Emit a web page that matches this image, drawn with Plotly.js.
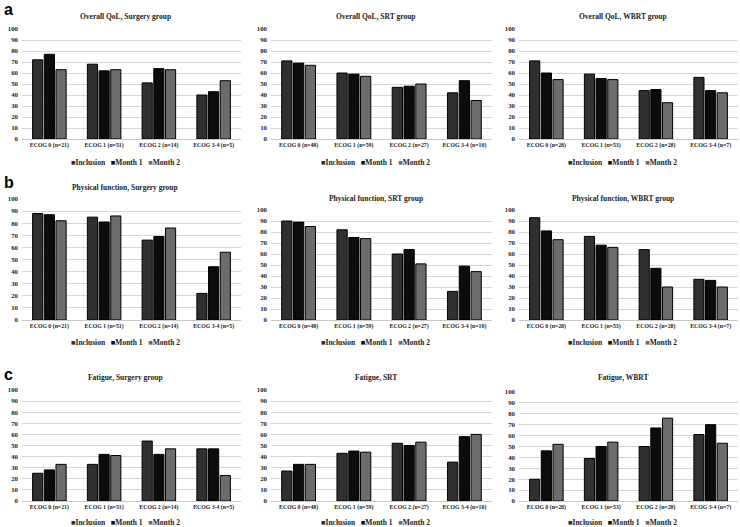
<!DOCTYPE html>
<html>
<head>
<meta charset="utf-8">
<script src="https://cdn.plot.ly/plotly-3.0.1.min.js"></script>
<style>html,body{margin:0;padding:0;background:#fff;}#chart{width:740px;height:527px;}</style>
</head>
<body>
<div id="chart"></div>
<script>
// ---- data ----
const catsSurgery = ['ECOG 0 (n=21)', 'ECOG 1 (n=51)', 'ECOG 2 (n=14)', 'ECOG 3-4 (n=5)'];
const catsSRT = ['ECOG 0 (n=48)', 'ECOG 1 (n=59)', 'ECOG 2 (n=27)', 'ECOG 3-4 (n=10)'];
const catsWBRT = ['ECOG 0 (n=28)', 'ECOG 1 (n=53)', 'ECOG 2 (n=28)', 'ECOG 3-4 (n=7)'];
const seriesNames = ['Inclusion', 'Month 1', 'Month 2'];

const qolSurgeryIncl = [72, 68, 51, 40];
const qolSurgeryM1 = [77, 62, 64, 43];
const qolSurgeryM2 = [63, 63, 63, 53];
const qolSRTIncl = [71, 60, 47, 42];
const qolSRTM1 = [69, 59, 48, 53];
const qolSRTM2 = [67, 57, 50, 35];
const qolWBRTIncl = [71, 59, 44, 56];
const qolWBRTM1 = [60, 55, 45, 44];
const qolWBRTM2 = [54, 54, 33, 42];

const pfSurgeryIncl = [88, 85, 66, 22];
const pfSurgeryM1 = [87, 81, 69, 44];
const pfSurgeryM2 = [82, 86, 76, 56];
const pfSRTIncl = [90, 82, 60, 26];
const pfSRTM1 = [89, 75, 64, 49];
const pfSRTM2 = [85, 74, 51, 44];
const pfWBRTIncl = [93, 76, 64, 37];
const pfWBRTM1 = [81, 68, 47, 36];
const pfWBRTM2 = [73, 66, 30, 30];

const faSurgeryIncl = [25, 33, 54, 47];
const faSurgeryM1 = [28, 42, 42, 47];
const faSurgeryM2 = [33, 41, 47, 23];
const faSRTIncl = [27, 43, 52, 35];
const faSRTM1 = [33, 45, 50, 58];
const faSRTM2 = [33, 44, 53, 60];
const faWBRTIncl = [20, 39, 50, 61];
const faWBRTM1 = [46, 50, 67, 70];
const faWBRTM2 = [52, 54, 76, 53];

const panelTitles = [
  'Overall QoL, Surgery group', 'Overall QoL, SRT group', 'Overall QoL, WBRT group',
  'Physical function, Surgery group', 'Physical function, SRT group', 'Physical function, WBRT group',
  'Fatigue, Surgery group', 'Fatigue, SRT', 'Fatigue, WBRT'
];
const panelLetters = ['a', 'b', 'c'];

// ---- assembly ----
const W = 740, H = 527;
const panels = [
  [catsSurgery, [qolSurgeryIncl, qolSurgeryM1, qolSurgeryM2]],
  [catsSRT, [qolSRTIncl, qolSRTM1, qolSRTM2]],
  [catsWBRT, [qolWBRTIncl, qolWBRTM1, qolWBRTM2]],
  [catsSurgery, [pfSurgeryIncl, pfSurgeryM1, pfSurgeryM2]],
  [catsSRT, [pfSRTIncl, pfSRTM1, pfSRTM2]],
  [catsWBRT, [pfWBRTIncl, pfWBRTM1, pfWBRTM2]],
  [catsSurgery, [faSurgeryIncl, faSurgeryM1, faSurgeryM2]],
  [catsSRT, [faSRTIncl, faSRTM1, faSRTM2]],
  [catsWBRT, [faWBRTIncl, faWBRTM1, faWBRTM2]]
];
const colors = ['#303030', '#0c0c0c', '#6c6c6c'];
// pixel geometry
const colX = [[22, 241], [271, 492], [519, 738]];
const plotY = [
  [[29, 139], [29, 139], [29, 139]],
  [[199, 320], [210, 320], [210, 320]],
  [[390, 501], [390, 501], [392, 501]]
];
const titleY = [[16, 16, 16], [188, 198, 198], [377, 377, 377]];
const legendY = [162, 342, 522];
const letterY = [9, 183, 374];

const FONT = 'Liberation Serif, Times New Roman, serif';
const px = x => x / W;
const py = y => 1 - y / H;

const data = [];
const layout = {
  width: W, height: H,
  margin: {l: 0, r: 0, t: 0, b: 0},
  paper_bgcolor: '#fff', plot_bgcolor: '#fff',
  barmode: 'group', bargap: 0.36, bargroupgap: 0.13,
  showlegend: false,
  font: {family: FONT, color: '#222', size: 7},
  annotations: []
};

panels.forEach((p, i) => {
  const r = Math.floor(i / 3), c = i % 3;
  const n = i + 1;
  const xa = 'xaxis' + (n === 1 ? '' : n), ya = 'yaxis' + (n === 1 ? '' : n);
  const xr = 'x' + (n === 1 ? '' : n), yr = 'y' + (n === 1 ? '' : n);
  p[1].forEach((vals, s) => {
    data.push({
      type: 'bar', x: p[0], y: vals, name: seriesNames[s],
      xaxis: xr, yaxis: yr,
      marker: {color: colors[s], line: {color: '#000', width: 1}},
      hoverinfo: 'x+y+name'
    });
  });
  layout[xa] = {
    domain: [px(colX[c][0]), px(colX[c][1])], anchor: yr,
    showline: true, linecolor: '#c8c8c8', linewidth: 1,
    ticks: '', showgrid: false, zeroline: false,
    tickfont: {family: FONT, size: 5.8, color: '#222', weight: 'bold'},
    tickangle: 0, fixedrange: true
  };
  layout[ya] = {
    domain: [py(plotY[r][c][1]), py(plotY[r][c][0])], anchor: xr,
    range: [0, 100], dtick: 10, tick0: 0,
    showgrid: true, gridcolor: '#d6d6d6', gridwidth: 1,
    zeroline: false, showline: false, ticks: '',
    tickfont: {family: FONT, size: 6.8, color: '#222', weight: 'bold'},
    ticklabelstandoff: 3, fixedrange: true
  };
  const cx = (colX[c][0] + colX[c][1]) / 2 - 6;
  layout.annotations.push({
    xref: 'paper', yref: 'paper', x: px(cx), y: py(titleY[r][c]),
    xanchor: 'center', yanchor: 'middle', showarrow: false,
    text: '<b>' + panelTitles[i] + '</b>',
    font: {family: FONT, size: 7.5, color: '#222'}
  });
  const leg = seriesNames.map((nm, s) =>
    '<span style="color:' + colors[s] + '">■</span><b>' + nm + '</b>').join('&nbsp;&nbsp;&nbsp;');
  layout.annotations.push({
    xref: 'paper', yref: 'paper', x: px(cx), y: py(legendY[r]),
    xanchor: 'center', yanchor: 'middle', showarrow: false,
    text: leg,
    font: {family: FONT, size: 7.5, color: '#222'}
  });
});

panelLetters.forEach((L, r) => {
  layout.annotations.push({
    xref: 'paper', yref: 'paper', x: px(2), y: py(letterY[r]),
    xanchor: 'left', yanchor: 'middle', showarrow: false,
    text: '<b>' + L + '</b>',
    font: {family: 'Liberation Sans, Arial, sans-serif', size: 16, color: '#000'}
  });
});

Plotly.newPlot('chart', data, layout, {displayModeBar: false, staticPlot: true});
</script>
</body>
</html>
